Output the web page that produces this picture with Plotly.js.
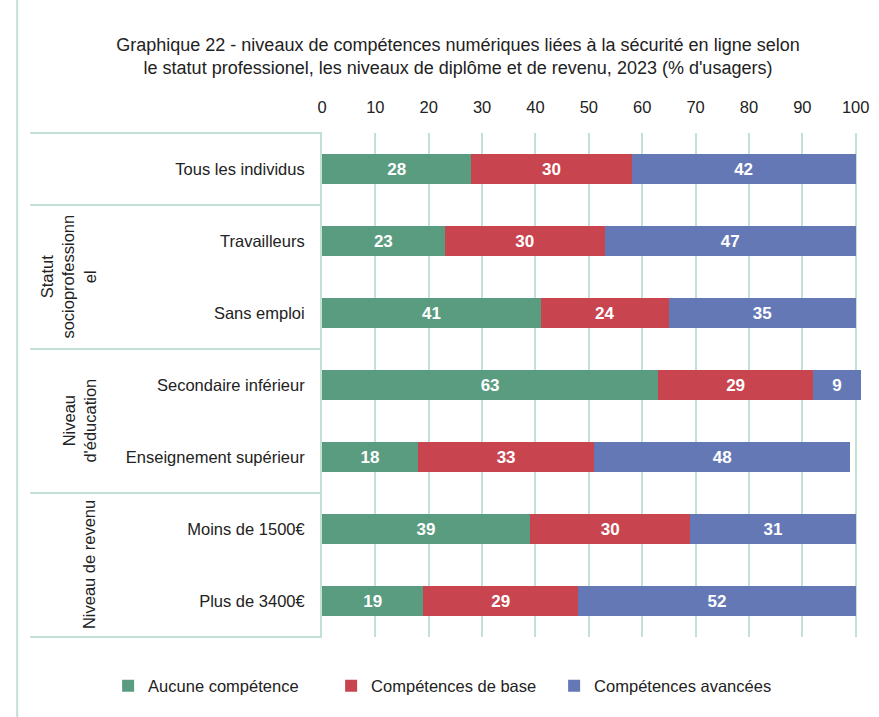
<!DOCTYPE html>
<html>
<head>
<meta charset="utf-8">
<script src="https://cdn.plot.ly/plotly-3.0.1.min.js"></script>
<style>
  html, body { margin: 0; padding: 0; background: #fff; }
  #chart { width: 879px; height: 717px; }
</style>
</head>
<body>
<div id="chart"></div>
<script>
// categories, top to bottom
var categories = [
  'Tous les individus',
  'Travailleurs',
  'Sans emploi',
  'Secondaire inférieur',
  'Enseignement supérieur',
  'Moins de 1500€',
  'Plus de 3400€'
];

var aucune   = [28, 23, 41, 63, 18, 39, 19];
var base     = [30, 30, 24, 29, 33, 30, 29];
var avancees = [42, 47, 35, 9, 48, 31, 52];

var seriesNames = ['Aucune compétence', 'Compétences de base', 'Compétences avancées'];
var seriesColors = ['#5a9c80', '#c8454f', '#6578b6'];

// groups on the left side: label and how many rows they cover
var groupLabels = ['', 'Statut<br>socioprofessionn<br>el', 'Niveau<br>d\'éducation', 'Niveau de revenu'];
var groupSizes = [1, 2, 2, 2];

var gridColor = '#c3e0d6';
var font = 'Liberation Sans, Arial, sans-serif';

function makeTrace(vals, i) {
  return {
    type: 'bar',
    orientation: 'h',
    name: seriesNames[i],
    y: categories,
    x: vals,
    text: vals.map(String),
    textposition: 'inside',
    insidetextanchor: 'middle',
    textfont: {color: '#ffffff', size: 17, family: font, weight: 'bold'},
    marker: {color: seriesColors[i]},
    hoverinfo: 'x+name'
  };
}

var data = [makeTrace(aucune, 0), makeTrace(base, 1), makeTrace(avancees, 2)];

// left table lines + labels for the groups
var pw = 539.3;
var leftX = (30 - 322) / pw;
var shapes = [];
var annotations = [];
var nRows = categories.length;
var row = 0;
shapes.push({type: 'line', xref: 'paper', yref: 'paper', x0: leftX, x1: 0, y0: 1, y1: 1,
             line: {color: gridColor, width: 2}});
for (var g = 0; g < groupSizes.length; g++) {
  var yTop = 1 - row / nRows;
  row += groupSizes[g];
  var yBot = 1 - row / nRows;
  shapes.push({type: 'line', xref: 'paper', yref: 'paper', x0: leftX, x1: 0, y0: yBot, y1: yBot,
               line: {color: gridColor, width: 2}});
  if (groupLabels[g]) {
    annotations.push({
      xref: 'paper', yref: 'paper',
      x: (100 - 322) / pw, xanchor: 'right',
      y: (yTop + yBot) / 2, yanchor: 'middle',
      text: groupLabels[g], textangle: -90, showarrow: false,
      font: {size: 16.5, color: '#222', family: font}
    });
  }
}
// outer border on the far left
shapes.push({type: 'line', xref: 'paper', yref: 'paper',
             x0: (17 - 322) / pw, x1: (17 - 322) / pw, y0: -0.2, y1: 1.3,
             line: {color: gridColor, width: 2}});

var layout = {
  width: 879,
  height: 717,
  margin: {l: 322, r: 18, t: 133, b: 80},
  paper_bgcolor: '#ffffff',
  plot_bgcolor: '#ffffff',
  barmode: 'stack',
  bargap: 0.58,
  font: {family: font, size: 16.5, color: '#222'},
  title: {
    text: 'Graphique 22 - niveaux de compétences numériques liées à la sécurité en ligne selon<br>le statut professionel, les niveaux de diplôme et de revenu, 2023 (% d\'usagers)',
    x: 458 / 879, xanchor: 'center',
    yref: 'container', y: 1 - 51 / 717, yanchor: 'middle',
    font: {size: 18, color: '#222', family: font}
  },
  xaxis: {
    side: 'top',
    range: [0, 101],
    tickvals: [0, 10, 20, 30, 40, 50, 60, 70, 80, 90, 100],
    showgrid: true,
    gridcolor: gridColor,
    gridwidth: 2,
    zeroline: false,
    showline: false,
    ticks: '',
    ticklabelstandoff: 16,
    tickfont: {size: 16.5, color: '#222'},
    fixedrange: true
  },
  yaxis: {
    categoryorder: 'array',
    categoryarray: categories,
    autorange: 'reversed',
    showgrid: false,
    showline: true,
    linecolor: gridColor,
    linewidth: 2,
    ticks: '',
    ticklabelstandoff: 12,
    tickfont: {size: 16.5, color: '#222'},
    fixedrange: true
  },
  legend: {
    orientation: 'h',
    x: (108 - 322) / pw, xanchor: 'left',
    y: (637 - 686) / 504, yanchor: 'middle',
    font: {size: 16.5, color: '#222'},
    entrywidth: 178,
    traceorder: 'normal'
  },
  shapes: shapes,
  annotations: annotations,
  showlegend: true
};

Plotly.newPlot('chart', data, layout, {displayModeBar: false, staticPlot: true});
</script>
</body>
</html>
